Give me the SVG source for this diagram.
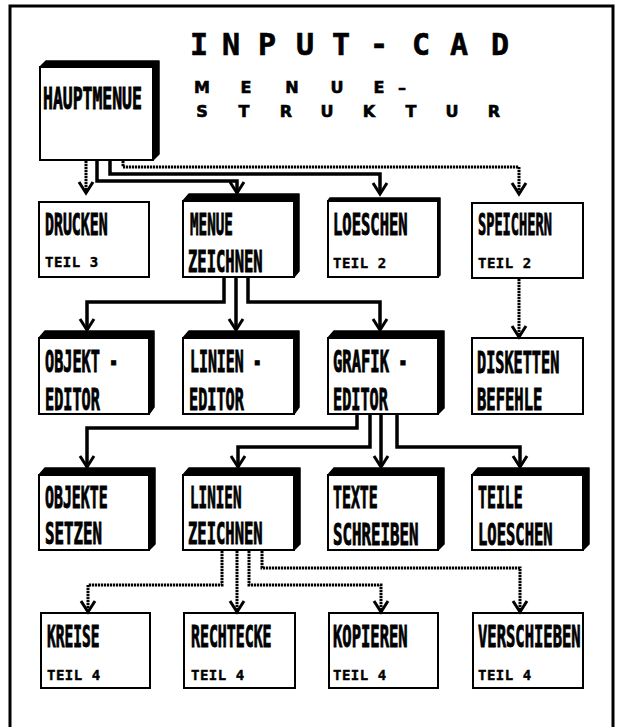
<svg xmlns="http://www.w3.org/2000/svg" width="617" height="727" viewBox="0 0 617 727">
<style>
.frame{fill:none;stroke:#000;stroke-width:3}
.box{fill:#fff;stroke:#000;stroke-width:2}
.sh{fill:#000;stroke:#000;stroke-width:1.5;stroke-linejoin:round}
.lbl{font-family:"DejaVu Sans Mono","Liberation Mono",monospace;font-weight:bold;font-size:31px;fill:#000;stroke:#000;stroke-width:1}
.sub{font-family:"DejaVu Sans Mono","Liberation Mono",monospace;font-weight:bold;font-size:14px;letter-spacing:0.5px;fill:#000;stroke:#000;stroke-width:0.4}
.title{font-family:"DejaVu Sans Mono","Liberation Mono",monospace;font-weight:bold;font-size:30px;fill:#000;stroke:#000;stroke-width:0.6}
.t2{font-family:"DejaVu Sans","Liberation Sans",sans-serif;font-weight:bold;font-size:16px;fill:#000;stroke:#000;stroke-width:0.6}
.thick{fill:none;stroke:#000;stroke-width:3.5;stroke-linejoin:miter}
.dot{fill:none;stroke:#000;stroke-width:3;stroke-dasharray:2.2 0.8}
</style>
<defs>
<marker id="ah" markerUnits="userSpaceOnUse" orient="auto" overflow="visible" refX="0" refY="0" markerWidth="1" markerHeight="1">
<path d="M-11,-7 L0,0 L-11,7" fill="none" stroke="#000" stroke-width="3"/>
</marker>
</defs>
<rect class="frame" x="10" y="6" width="603" height="730"/>

<g id="title">
<text class="title" text-anchor="middle" y="55" x="199 215 231 249 267 286 305 323 341 360 379 400 421 440 459 480 500">I N P U T - C A D</text>
<text class="t2" text-anchor="middle" y="93" x="202 224 246 269 292 315 337 358 379 392 402">M E N U E –</text>
<text class="t2" text-anchor="middle" y="117" x="202 223 244 265 286 307 327 348 369 390 411 432 452 473 494">S T R U K T U R</text>
</g>

<g id="hauptmenue">
<polygon class="sh" points="40,67 46,61 159,61 159,154 153,160"/>
<rect class="box" x="40" y="67" width="113" height="93"/>
<text class="lbl" font-size="33" transform="translate(43,109) scale(0.53,1)">HAUPTMENUE</text>
</g>

<g id="drucken">
<rect class="box" x="39" y="202" width="110" height="75"/>
<text class="lbl" transform="translate(45,235) scale(0.48,1)">DRUCKEN</text>
<text class="sub" x="45" y="267">TEIL 3</text>
</g>
<g id="menue-zeichnen">
<polygon class="sh" points="183,201 189,194 299,194 299,271 294,277"/>
<rect class="box" x="183" y="201" width="111" height="76"/>
<text class="lbl" transform="translate(190,235) scale(0.46,1)">MENUE</text>
<text class="lbl" transform="translate(188,272) scale(0.50,1)">ZEICHNEN</text>
</g>
<g id="loeschen">
<polygon class="sh" points="328,201 330,198 440,198 440,275 438,277"/>
<rect class="box" x="328" y="201" width="110" height="76"/>
<text class="lbl" transform="translate(333,235) scale(0.50,1)">LOESCHEN</text>
<text class="sub" x="333" y="268">TEIL 2</text>
</g>
<g id="speichern">
<rect class="box" x="472" y="203" width="111" height="75"/>
<text class="lbl" transform="translate(478,235) scale(0.44,1)">SPEICHERN</text>
<text class="sub" x="478" y="268">TEIL 2</text>
</g>

<g id="objekt-editor">
<polygon class="sh" points="39,338 45,331 154,331 154,407 149,414"/>
<rect class="box" x="39" y="338" width="110" height="76"/>
<text class="lbl" transform="translate(45,372) scale(0.49,1)">OBJEKT -</text>
<text class="lbl" transform="translate(45,410) scale(0.49,1)">EDITOR</text>
</g>
<g id="linien-editor">
<polygon class="sh" points="183,338 189,331 299,331 299,407 294,414"/>
<rect class="box" x="183" y="338" width="111" height="76"/>
<text class="lbl" transform="translate(190,372) scale(0.48,1)">LINIEN -</text>
<text class="lbl" transform="translate(189,410) scale(0.49,1)">EDITOR</text>
</g>
<g id="grafik-editor">
<polygon class="sh" points="328,338 334,331 444,331 444,408 438,414"/>
<rect class="box" x="328" y="338" width="110" height="76"/>
<text class="lbl" transform="translate(333,372) scale(0.50,1)">GRAFIK -</text>
<text class="lbl" transform="translate(333,410) scale(0.49,1)">EDITOR</text>
</g>
<g id="disketten-befehle">
<rect class="box" x="472" y="338" width="111" height="76"/>
<text class="lbl" transform="translate(477,373) scale(0.49,1)">DISKETTEN</text>
<text class="lbl" transform="translate(477,410) scale(0.50,1)">BEFEHLE</text>
</g>

<g id="objekte-setzen">
<polygon class="sh" points="39,475 45,468 155,468 155,544 149,550"/>
<rect class="box" x="39" y="475" width="110" height="75"/>
<text class="lbl" transform="translate(45,508) scale(0.48,1)">OBJEKTE</text>
<text class="lbl" transform="translate(45,544) scale(0.51,1)">SETZEN</text>
</g>
<g id="linien-zeichnen">
<polygon class="sh" points="183,475 189,468 300,468 300,544 294,550"/>
<rect class="box" x="183" y="475" width="111" height="75"/>
<text class="lbl" transform="translate(190,508) scale(0.46,1)">LINIEN</text>
<text class="lbl" transform="translate(188,544) scale(0.50,1)">ZEICHNEN</text>
</g>
<g id="texte-schreiben">
<polygon class="sh" points="328,475 334,468 444,468 444,544 438,550"/>
<rect class="box" x="328" y="475" width="110" height="75"/>
<text class="lbl" transform="translate(333,508) scale(0.48,1)">TEXTE</text>
<text class="lbl" transform="translate(333,545) scale(0.51,1)">SCHREIBEN</text>
</g>
<g id="teile-loeschen">
<polygon class="sh" points="472,475 478,468 589,468 589,544 583,550"/>
<rect class="box" x="472" y="475" width="111" height="75"/>
<text class="lbl" transform="translate(478,508) scale(0.48,1)">TEILE</text>
<text class="lbl" transform="translate(478,545) scale(0.50,1)">LOESCHEN</text>
</g>

<g id="kreise">
<rect class="box" x="41" y="613" width="109" height="75"/>
<text class="lbl" transform="translate(47,647) scale(0.47,1)">KREISE</text>
<text class="sub" x="47" y="680">TEIL 4</text>
</g>
<g id="rechtecke">
<rect class="box" x="184" y="613" width="111" height="75"/>
<text class="lbl" transform="translate(191,647) scale(0.48,1)">RECHTECKE</text>
<text class="sub" x="191" y="680">TEIL 4</text>
</g>
<g id="kopieren">
<rect class="box" x="329" y="613" width="109" height="75"/>
<text class="lbl" transform="translate(333,647) scale(0.50,1)">KOPIEREN</text>
<text class="sub" x="333" y="680">TEIL 4</text>
</g>
<g id="verschieben">
<rect class="box" x="473" y="613" width="110" height="75"/>
<text class="lbl" transform="translate(478,647) scale(0.50,1)">VERSCHIEBEN</text>
<text class="sub" x="478" y="680">TEIL 4</text>
</g>

<g id="connectors">
<path class="dot" d="M86,161 V193" marker-end="url(#ah)"/>
<path class="thick" d="M97,161 V181 H237 V193" marker-end="url(#ah)"/>
<path class="thick" d="M110,161 V174 H380 V194" marker-end="url(#ah)"/>
<path class="dot" d="M123,161 V167 H519 V194" marker-end="url(#ah)"/>

<path class="thick" d="M224,278 V302 H87 V330" marker-end="url(#ah)"/>
<path class="thick" d="M236,278 V330" marker-end="url(#ah)"/>
<path class="thick" d="M248,278 V302 H380 V330" marker-end="url(#ah)"/>
<path class="dot" d="M519,279 V337" marker-end="url(#ah)"/>

<path class="thick" d="M357,415 V428 H87 V467" marker-end="url(#ah)"/>
<path class="thick" d="M370,415 V447 H238 V467" marker-end="url(#ah)"/>
<path class="thick" d="M381,415 V467" marker-end="url(#ah)"/>
<path class="thick" d="M397,415 V447 H520 V467" marker-end="url(#ah)"/>

<path class="dot" d="M222,551 V585 H88 V612" marker-end="url(#ah)"/>
<path class="dot" d="M237,551 V612" marker-end="url(#ah)"/>
<path class="dot" d="M249,551 V585 H381 V612" marker-end="url(#ah)"/>
<path class="dot" d="M262,551 V568 H520 V612" marker-end="url(#ah)"/>
</g>
</svg>
